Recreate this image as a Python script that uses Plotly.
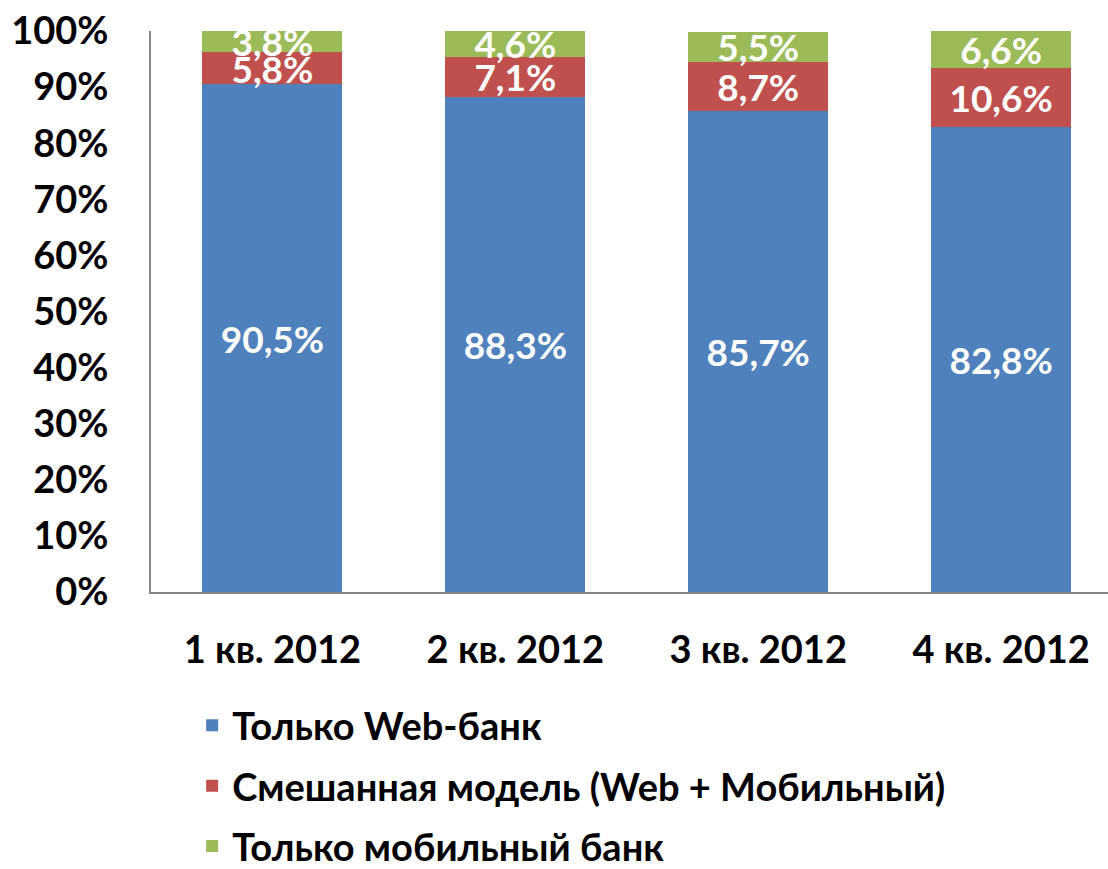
import plotly.graph_objects as go

categories = ["1 кв. 2012", "2 кв. 2012", "3 кв. 2012", "4 кв. 2012"]
web_only = [90.5, 88.3, 85.7, 82.8]
mixed = [5.8, 7.1, 8.7, 10.6]
mobile_only = [3.8, 4.6, 5.5, 6.6]
series_names = ["Только Web-банк", "Смешанная модель (Web + Мобильный)", "Только мобильный банк"]
series_colors = ["#4F81BD", "#C0504D", "#9BBB59"]
y_ticks = list(range(0, 101, 10))

FONT = "Lato"

fig = go.Figure()
for i, (name, vals, col) in enumerate(zip(series_names, [web_only, mixed, mobile_only], series_colors)):
    fig.add_trace(go.Bar(
        x=categories, y=vals, name=name,
        marker=dict(color=col, line=dict(width=0)),
        width=0.576,
        texttemplate="%{y:.1f}%",
        textposition="inside",
        insidetextanchor="middle",
        constraintext="none",
        textangle=0,
        textfont=dict(family=FONT, size=37, color="white", weight="bold"),
        legendgroup=f"g{i}",
        hoverinfo="skip",
    ))

fig.update_layout(
    barmode="stack",
    width=1108, height=869,
    margin=dict(l=151, r=0, t=31, b=277, autoexpand=False),
    paper_bgcolor="white", plot_bgcolor="white",
    separators=",.",
    showlegend=True,
    legend=dict(
        x=0.043, y=-0.182, xanchor="left", yanchor="top",
        orientation="v", traceorder="grouped",
        font=dict(family=FONT, size=38, color="black", weight="bold"),
        tracegroupgap=8,
        bgcolor="rgba(0,0,0,0)",
    ),
    font=dict(family=FONT, color="black"),
)
fig.update_xaxes(
    range=[-0.5, 3.44], automargin=False,
    showline=True, linecolor="#868686", linewidth=2,
    showgrid=False, ticks="",
    tickfont=dict(family=FONT, size=38, color="black", weight="bold"),
    ticklabelstandoff=23,
)
fig.update_yaxes(
    range=[0, 100], automargin=False,
    tickvals=y_ticks, ticktext=[f"{v}%" for v in y_ticks],
    showline=True, linecolor="#868686", linewidth=2,
    showgrid=False, ticks="", zeroline=False,
    tickfont=dict(family=FONT, size=38, color="black", weight="bold"),
    ticklabelstandoff=33,
)

fig.write_html("out.html", config={"displayModeBar": False},
               post_script="document.body.style.margin='0';")
